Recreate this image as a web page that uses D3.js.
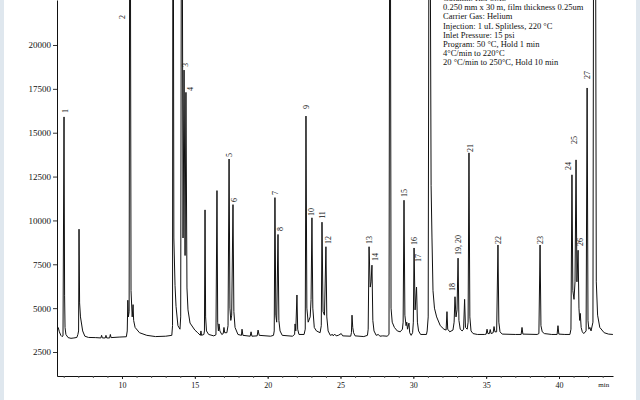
<!DOCTYPE html>
<html><head><meta charset="utf-8">
<script src="https://cdn.jsdelivr.net/npm/d3@7"></script>
<style>
body{margin:0;background:#fff}
svg{display:block}
text{font-family:"Liberation Serif","Times New Roman",serif;fill:#111}
</style>
</head><body>
<svg id="c" width="640" height="400"></svg>
<script>
// retention time (min), detector signal
const trace = [
[5.54,3950],[5.62,3900],[5.7,3650],[5.8,3450],[5.88,3380],[5.95,3420],[6.02,15900],[6.06,5700],[6.09,3900],[6.15,3500],[6.3,3320],[6.5,3280],[6.7,3300],[6.9,3330],[6.97,3500],[7.02,3700],[7.05,9500],[7.09,5300],[7.15,4500],[7.3,3700],[7.45,3400],[7.7,3330],[8.2,3320],[8.55,3300],[8.6,3450],[8.65,3300],[8.85,3300],[8.9,3450],[8.95,3300],[9.15,3300],[9.2,3500],[9.25,3320],[9.8,3350],
[10.3,3370],[10.36,3700],[10.4,5450],[10.44,4500],[10.49,4800],[10.55,40000],[10.62,6000],[10.7,4500],[10.76,5200],[10.8,4300],[10.9,3900],[11.2,3600],[11.7,3450],[12.3,3380],[13.0,3400],
[13.42,3450],[13.47,4000],[13.5,40000],[13.56,9000],[13.64,6300],[13.71,5100],[13.84,4000],[13.98,3800],[14.03,4500],[14.1,40000],[14.19,9000],[14.26,18570],[14.33,8000],[14.39,17300],[14.46,6150],[14.53,4900],[14.67,4150],[15.0,3750],[15.2,3600],
[15.38,3450],[15.42,3700],[15.46,3450],[15.62,3500],[15.66,3700],[15.7,10600],[15.74,4500],[15.8,3700],[15.95,3500],[16.3,3420],[16.45,3480],[16.52,11700],[16.57,4200],[16.62,3700],[16.66,4100],[16.72,3700],[16.85,3500],[16.95,3550],[17.0,3900],[17.05,3600],
[17.2,3600],[17.28,4000],[17.35,13500],[17.41,5000],[17.47,4300],[17.53,4600],[17.62,10900],[17.68,4800],[17.76,3900],[17.96,3500],[18.2,3450],[18.24,3800],[18.3,3450],[18.8,3400],[18.86,3650],[18.92,3400],[19.28,3420],[19.34,3750],[19.42,3450],[20.2,3400],
[20.4,3450],[20.45,3700],[20.5,11300],[20.56,4600],[20.62,4200],[20.71,9200],[20.77,4300],[20.85,3700],[21.0,3450],[21.7,3400],[21.85,3500],[21.88,4100],[21.93,3700],[22.01,5750],[22.06,3800],[22.15,3500],
[22.5,3500],[22.58,3800],[22.63,15950],[22.69,5000],[22.78,4200],[22.92,4500],[22.98,5500],[23.04,10150],[23.1,5000],[23.2,3900],[23.35,3700],[23.6,3600],[23.68,4000],[23.73,9900],[23.8,4800],[23.9,4600],[24.0,8500],[24.06,4500],[24.15,3700],[24.3,3450],
[24.45,3500],[24.5,3420],[24.6,3520],[24.7,3420],[24.85,3450],[25.05,3550],[25.15,3420],[25.7,3400],[25.75,3600],[25.79,4600],[25.84,3900],[25.9,3600],[26.0,3420],[26.6,3380],
[26.85,3450],[26.9,3800],[26.96,8500],[27.04,6200],[27.1,6500],[27.16,7450],[27.22,4300],[27.3,3700],[27.45,3450],[27.6,3500],[27.7,3400],[27.9,3420],[28.2,3400],
[28.33,3500],[28.4,40000],[28.47,5000],[28.55,4200],[28.7,3900],[28.9,3700],[29.1,3650],[29.25,3800],[29.3,4200],[29.36,11150],[29.42,4600],[29.5,4000],[29.55,4200],[29.6,3800],[29.7,4150],[29.75,3600],[29.85,3450],[29.95,3600],[30.0,4200],[30.05,8430],[30.12,4900],[30.22,6200],[30.28,4200],[30.36,3700],[30.5,3500],[30.9,3500],
[30.95,3700],[31.02,4500],[31.1,40000],[31.22,12000],[31.28,9000],[31.35,6000],[31.45,5000],[31.6,4500],[31.85,4000],[32.1,3800],[32.25,3750],[32.31,4800],[32.36,3800],[32.5,3650],[32.72,3750],[32.8,4200],[32.86,5650],[32.93,4500],[33.0,4900],[33.07,7850],[33.13,4300],[33.22,3800],[33.35,3700],[33.45,3800],[33.52,5500],[33.58,3900],[33.7,3800],[33.76,4200],[33.82,13850],[33.88,4500],[33.96,3700],[34.1,3550],[34.4,3500],
[34.9,3500],[35.0,3520],[35.06,3800],[35.12,3550],[35.22,3550],[35.28,3780],[35.34,3550],[35.48,3600],[35.54,3950],[35.6,3650],[35.72,3650],[35.81,8600],[35.87,4200],[35.95,3650],[36.1,3520],[37.0,3500],[37.4,3500],[37.46,3900],[37.52,3520],[38.5,3500],
[38.62,3550],[38.7,8600],[38.76,4000],[38.85,3650],[39.0,3550],[39.5,3500],[39.87,3500],[39.93,4000],[39.99,3520],[40.4,3500],
[40.75,3500],[40.82,3800],[40.89,12600],[40.95,6000],[41.03,5500],[41.1,6500],[41.17,13450],[41.23,6500],[41.31,8300],[41.37,5000],[41.42,4300],[41.46,4700],[41.52,3900],[41.6,3650],[41.7,3550],[41.86,3700],[41.93,17550],[41.99,4300],[42.05,3800],[42.12,3900],[42.2,3700],[42.33,4200],[42.4,40000],[42.48,40000],[42.56,6500],[42.65,4600],[42.8,3900],[43.1,3600],[43.4,3520],[43.7,3500]
];

const yTickValues = [2500, 5000, 7500, 10000, 12500, 15000, 17500, 20000];
const xMajorTicks = [10, 15, 20, 25, 30, 35, 40];
const xMinorTicks = [6,7,8,9,10,11,12,13,14,15,16,17,18,19,20,21,22,23,24,25,26,27,28,29,30,31,32,33,34,35,36,37,38,39,40,41,42,43];
const xUnit = "min";

const peakLabels = ["1","2","3","4","5","6","7","8","9","10","11","12","13","14","15","16","17","18","19, 20","21","22","23","24","25","26","27"];
const labelTime  = [6.09,10.0,14.32,14.67,17.35,17.69,20.5,20.85,22.63,22.97,23.73,24.14,26.96,27.37,29.36,30.05,30.32,32.65,33.07,33.89,35.81,38.7,40.62,41.03,41.44,41.92];
const labelSignal= [16240,21600,18860,17490,13730,11160,11560,9510,16460,10480,10310,8880,8880,7920,11560,8830,7860,6200,8600,14130,8880,8880,13100,14580,8770,18290];

const conditions = [
  "Column: Rtx-5MS",
  "0.250 mm x 30 m, film thickness 0.25um",
  "Carrier Gas:  Helium",
  "Injection: 1 uL Splitless, 220 \u00B0C",
  "Inlet Pressure:  15 psi",
  "Program:  50 \u00B0C, Hold 1 min",
  "4\u00B0C/min to 220\u00B0C",
  "20 \u00B0C/min to 250\u00B0C, Hold 10 min"
];

(function(){
const svg = d3.select("#c");
const mL = 57, mR = 613, mT = 0, mB = 376;

svg.append("rect").attr("width",640).attr("height",400).attr("fill","#fff");
svg.append("rect").attr("x",0).attr("y",0).attr("width",4).attr("height",400).attr("fill","#dfe7ee");
svg.append("rect").attr("x",636).attr("y",0).attr("width",4).attr("height",400).attr("fill","#dfe7ee");

const x = d3.scaleLinear().domain([5.538, 43.707]).range([mL, mR]);
const y = d3.scaleLinear().domain([1132, 22565]).range([mB, mT]);

svg.append("clipPath").attr("id","clip").append("rect")
  .attr("x",mL).attr("y",mT).attr("width",mR-mL).attr("height",mB-mT);

const yAxis = svg.append("g").attr("transform",`translate(${mL},0)`)
  .call(d3.axisLeft(y).tickValues(yTickValues).tickFormat(d3.format("d")).tickSize(4).tickSizeOuter(0).tickPadding(2));
yAxis.select(".domain").attr("stroke","#111");
yAxis.selectAll(".tick line").attr("stroke","#333");
yAxis.selectAll("text").attr("font-size",9).style("font-family",'"Liberation Serif",serif').attr("fill","#222");

const xMinor = svg.append("g").attr("transform",`translate(0,${mB})`)
  .call(d3.axisBottom(x).tickValues(xMinorTicks).tickFormat("").tickSize(2).tickSizeOuter(0));
xMinor.select(".domain").attr("stroke","#111");
xMinor.selectAll(".tick line").attr("stroke","#555");

const xMajor = svg.append("g").attr("transform",`translate(0,${mB})`)
  .call(d3.axisBottom(x).tickValues(xMajorTicks).tickFormat(d3.format("d")).tickSize(3).tickSizeOuter(0).tickPadding(3));
xMajor.select(".domain").remove();
xMajor.selectAll(".tick line").attr("stroke","#222");
xMajor.selectAll("text").attr("font-size",8).style("font-family",'"Liberation Serif",serif').attr("fill","#222");

svg.append("text").attr("x",x(43.07)).attr("y",mB+11).attr("text-anchor","middle")
  .attr("font-size",7).text(xUnit);

const line = d3.line().x(d=>x(d[0])).y(d=>y(d[1]));
svg.append("path").datum(trace).attr("clip-path","url(#clip)")
  .attr("fill","none").attr("stroke","#111").attr("stroke-width",1)
  .attr("d",line);

svg.append("g").selectAll("text").data(peakLabels).join("text")
  .attr("transform",(d,i)=>`translate(${x(labelTime[i])},${y(labelSignal[i])}) rotate(-90)`)
  .attr("text-anchor","middle").attr("dy","0.35em").attr("font-size",8).text(d=>d);

svg.append("g").selectAll("text").data(conditions).join("text")
  .attr("x",443).attr("y",(d,i)=>1 + i*9.2).attr("font-size",8.5).text(d=>d);
})();
</script>
</body></html>
